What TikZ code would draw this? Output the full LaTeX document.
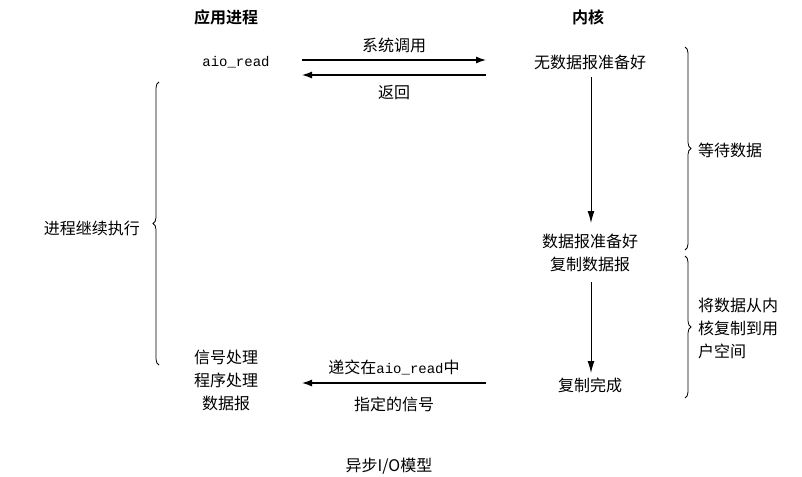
\documentclass[tikz,border=0pt]{standalone}
\usepackage{fontspec}
\newfontfamily\cjk{Noto Sans CJK SC}
\newfontfamily\cjkb{Noto Sans CJK SC Bold}
\newfontfamily\mono{Liberation Mono}
\usetikzlibrary{arrows.meta,decorations.pathreplacing}
\begin{document}
\begin{tikzpicture}[x=1pt,y=-1pt,
  txt/.style={font=\cjk\fontsize{16}{23}\selectfont, inner sep=0pt, align=center},
  hdr/.style={font=\cjkb\fontsize{16}{18}\selectfont, inner sep=0pt},
  code/.style={font=\mono\fontsize{14}{18}\selectfont, inner sep=0pt},
  harrow/.style={line width=1.2pt, -{Latex[length=10pt,width=7pt]}},
  varrow/.style={line width=1pt, -{Latex[length=12pt,width=7pt]}},
  brc/.style={decorate, decoration={brace, amplitude=6pt}, line width=0.8pt}]
\useasboundingbox (0,0) rectangle (802,476);
% headers
\node[hdr] (happ) at (226,17) {应用进程};
\node[hdr] (hker) at (588,17) {内核};
% left column
\node[code] (aio) at (236,62) {aio\_read};
\node[txt] (sig) at (226,380) {信号处理\\程序处理\\数据报};
% kernel column
\node[txt] (nodata) at (590,62) {无数据报准备好};
\node[txt] (ready) at (590,253) {数据报准备好\\复制数据报};
\node[txt] (done) at (590,385) {复制完成};
% coordinates for horizontal arrows
\coordinate (c1l) at (302,60);
\coordinate (c1r) at (486,60);
\coordinate (c2l) at (302,75);
\coordinate (c2r) at (486,75);
\coordinate (c3l) at (302,383);
\coordinate (c3r) at (486,383);
\draw[harrow] (c1l) -- node[txt, above=7pt] (lsys) {系统调用} (c1r);
\draw[harrow] (c2r) -- node[txt, below=10pt] (lret) {返回} (c2l);
\draw[harrow] (c3r) -- node[txt, above=7pt] (ldel) {递交在{\mono\fontsize{14}{18}\selectfont aio\_read}中} node[txt, below=13pt] (lsig) {指定的信号} (c3l);
% vertical arrows
\draw[varrow] (591,77) -- (591,223);
\draw[varrow] (591,282) -- (591,373);
% braces
\draw[brc] (159,365) -- (159,82);
\node[txt, anchor=east] (cont) at (140,228) {进程继续执行};
\draw[brc] (685,47) -- (685,250);
\node[txt, anchor=west] (wait) at (698,150) {等待数据};
\draw[brc] (685,256) -- (685,398);
\node[txt, anchor=west, align=left] (copy) at (698,328) {将数据从内\\核复制到用\\户空间};
% caption
\node[txt] (cap) at (389,466) {异步I/O模型};
\end{tikzpicture}
\end{document}
